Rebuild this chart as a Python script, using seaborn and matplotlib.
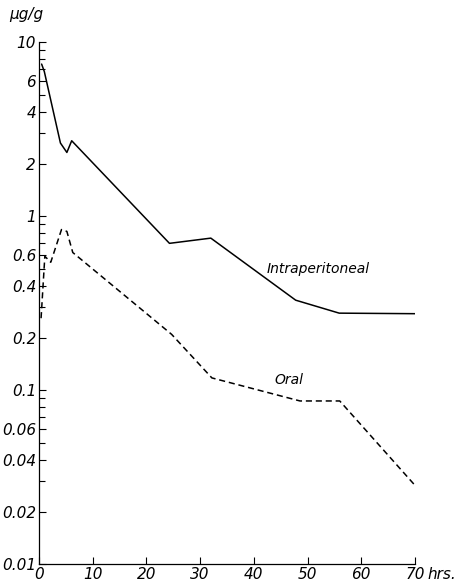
"""
Log-scale time course: intraperitoneal vs oral (µg/g)
"""

import pandas as pd
import seaborn as sns
import matplotlib.pyplot as plt
from matplotlib.ticker import FixedLocator, FixedFormatter, NullFormatter

# =========================
# data
# =========================
ip_hours = [0.5, 1.0, 4.0, 5.2, 6.1, 24.3, 32.0, 47.8, 55.9, 70.0]
ip_conc = [7.5, 6.8, 2.64, 2.33, 2.72, 0.70, 0.75, 0.33, 0.278, 0.276]

oral_hours = [0.4, 1.1, 2.2, 4.2, 5.2, 6.3, 24.7, 32.2, 48.6, 56.0, 70.0]
oral_conc = [0.26, 0.59, 0.545, 0.84, 0.82, 0.62, 0.21, 0.118, 0.087, 0.087, 0.0285]

y_ticks = [10, 6, 4, 2, 1, 0.6, 0.4, 0.2, 0.1, 0.06, 0.04, 0.02, 0.01]
y_labels = ["10", "6", "4", "2", "1", "0.6", "0.4", "0.2", "0.1",
            "0.06", "0.04", "0.02", "0.01"]
x_ticks = [0, 10, 20, 30, 40, 50, 60, 70]

df = pd.concat([
    pd.DataFrame({"hours": ip_hours, "conc": ip_conc, "route": "Intraperitoneal"}),
    pd.DataFrame({"hours": oral_hours, "conc": oral_conc, "route": "Oral"}),
])

# =========================
# plot
# =========================
sns.set_style("ticks", {"text.color": "black", "axes.labelcolor": "black",
                        "xtick.color": "black", "ytick.color": "black",
                        "axes.edgecolor": "black"})
plt.rcParams["font.family"] = ["DejaVu Sans"]

fig = plt.figure(figsize=(4.58, 5.88), dpi=100)
ax = fig.add_axes([0.085, 0.040, 0.821, 0.888])

sns.lineplot(
    data=df, x="hours", y="conc", hue="route", style="route",
    palette={"Intraperitoneal": "black", "Oral": "black"},
    dashes={"Intraperitoneal": "", "Oral": (4, 2.5)},
    linewidth=1.1, estimator=None, sort=False, legend=False, ax=ax,
)

ax.set_yscale("log")
ax.set_ylim(0.01, 10)
ax.set_xlim(0, 70)

minor = [m * 10.0 ** e for e in (-2, -1, 0) for m in (3, 5, 7, 8, 9)]
ax.yaxis.set_major_locator(FixedLocator(y_ticks))
ax.yaxis.set_major_formatter(FixedFormatter(y_labels))
ax.yaxis.set_minor_locator(FixedLocator(minor))
ax.yaxis.set_minor_formatter(NullFormatter())
ax.set_xticks(x_ticks)
ax.set_xticklabels([str(t) for t in x_ticks])

ax.tick_params(axis="both", which="major", direction="in", length=5, width=0.8,
               labelsize=11, pad=2)
ax.tick_params(axis="y", which="minor", direction="in", length=4, width=0.8)
for lab in ax.get_xticklabels() + ax.get_yticklabels():
    lab.set_fontstyle("italic")

for s in ["top", "right"]:
    ax.spines[s].set_visible(False)
for s in ["left", "bottom"]:
    ax.spines[s].set_linewidth(0.9)

ax.set_xlabel("")
ax.set_ylabel("")

ax.text(46.5, 0.115, "Oral", fontsize=10, style="italic", ha="center", va="center")
ax.text(52.0, 0.50, "Intraperitoneal", fontsize=10, style="italic",
        ha="center", va="center")
# unit after the last x tick label
ax.annotate("hrs.", xy=(70, 0), xycoords=("data", "axes fraction"),
            xytext=(9, -2), textcoords="offset points",
            fontsize=11, style="italic", ha="left", va="top", annotation_clip=False)

fig.text(0.02, 0.975, "µg/g", fontsize=11, style="italic", ha="left", va="center")

fig.savefig("out.png", dpi=100)
